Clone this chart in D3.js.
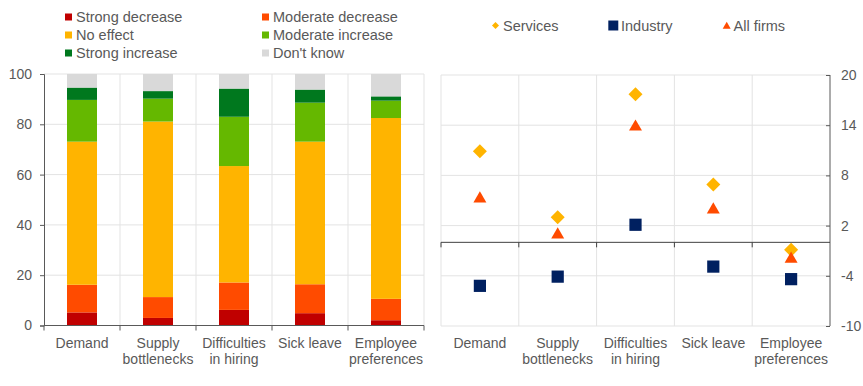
<!DOCTYPE html>
<html>
<head>
<meta charset="utf-8">
<script src="https://cdn.jsdelivr.net/npm/d3@7"></script>
<style>
  body { margin: 0; background: #fff; }
  svg text { font-family: "Liberation Sans", Arial, sans-serif; fill: #595959; }
</style>
</head>
<body>
<div id="chart"></div>
<script>
var categories = [["Demand"], ["Supply", "bottlenecks"], ["Difficulties", "in hiring"], ["Sick leave"], ["Employee", "preferences"]];
var catKeys = ["Demand", "Supply bottlenecks", "Difficulties in hiring", "Sick leave", "Employee preferences"];

var answerNames = ["Strong decrease", "Moderate decrease", "No effect", "Moderate increase", "Strong increase", "Don't know"];
var answerColors = ["#c00000", "#ff4b00", "#ffb400", "#65b800", "#00781e", "#d9d9d9"];
var strongDecrease = [5.2, 3.0, 6.2, 4.9, 2.1];
var moderateDecrease = [11.0, 8.3, 10.9, 11.5, 8.5];
var noEffect = [56.9, 69.8, 46.3, 56.7, 71.9];
var moderateIncrease = [16.6, 9.1, 19.6, 15.5, 6.9];
var strongIncrease = [4.9, 3.0, 11.2, 5.2, 1.7];
var dontKnow = [5.4, 6.8, 5.8, 6.2, 8.9];

var seriesNames = ["Services", "Industry", "All firms"];
var services = [10.9, 3.0, 17.7, 6.9, -0.9];
var industry = [-5.2, -4.1, 2.1, -2.9, -4.4];
var allFirms = [5.2, 0.9, 13.8, 3.9, -2.0];

var leftTicks = [0, 20, 40, 60, 80, 100];
var rightTicks = [-10, -4, 2, 8, 14, 20];

var W = 863, H = 386;
var svg = d3.select("#chart").append("svg").attr("width", W).attr("height", H);

// ---------- left: stacked bars ----------
var stackData = catKeys.map(function(c, i) {
  return { cat: c, s0: strongDecrease[i], s1: moderateDecrease[i], s2: noEffect[i],
           s3: moderateIncrease[i], s4: strongIncrease[i], s5: dontKnow[i] };
});
var keys = ["s0", "s1", "s2", "s3", "s4", "s5"];
var stacked = d3.stack().keys(keys)(stackData);

var xL = d3.scaleBand().domain(catKeys).range([44, 424]);
var yL = d3.scaleLinear().domain([0, 100]).range([325.5, 74]);

var gl = svg.append("g");
// gridlines
gl.selectAll("line.hg").data(leftTicks.slice(1)).enter().append("line")
  .attr("x1", 44).attr("x2", 424)
  .attr("y1", function(d) { return yL(d); }).attr("y2", function(d) { return yL(d); })
  .attr("stroke", "#e3e3e3");
gl.selectAll("line.vg").data(catKeys).enter().append("line")
  .attr("x1", function(d) { return xL(d) + xL.bandwidth(); })
  .attr("x2", function(d) { return xL(d) + xL.bandwidth(); })
  .attr("y1", yL(100)).attr("y2", yL(0))
  .attr("stroke", "#e3e3e3");

var barW = 30;
gl.selectAll("g.layer").data(stacked).enter().append("g")
  .attr("fill", function(d, i) { return answerColors[i]; })
  .selectAll("rect").data(function(d) { return d; }).enter().append("rect")
  .attr("x", function(d) { return xL(d.data.cat) + xL.bandwidth() / 2 - barW / 2; })
  .attr("width", barW)
  .attr("y", function(d) { return yL(d[1]); })
  .attr("height", function(d) { return yL(d[0]) - yL(d[1]); });

// axes
var axL = gl.append("g").attr("transform", "translate(44,0)")
  .call(d3.axisLeft(yL).tickValues(leftTicks).tickSize(4).tickPadding(8));
axL.select(".domain").attr("stroke", "#595959");
axL.selectAll(".tick line").attr("stroke", "#595959");
axL.selectAll(".tick text").attr("font-size", 14).attr("fill", "#595959");

var bxL = gl.append("g").attr("transform", "translate(0," + yL(0) + ")");
bxL.append("line").attr("x1", 44).attr("x2", 424).attr("stroke", "#595959");
bxL.selectAll("line.t").data([0, 1, 2, 3, 4, 5]).enter().append("line")
  .attr("x1", function(d) { return 44 + d * xL.bandwidth(); })
  .attr("x2", function(d) { return 44 + d * xL.bandwidth(); })
  .attr("y1", 0).attr("y2", 5).attr("stroke", "#595959");

function catLabels(g, scale) {
  g.selectAll("text.cat").data(categories).enter().append("text")
    .attr("text-anchor", "middle")
    .attr("font-size", 14)
    .each(function(d, i) {
      var t = d3.select(this);
      var cx = scale(catKeys[i]) + scale.bandwidth() / 2;
      d.forEach(function(line, j) {
        t.append("tspan").attr("x", cx).attr("y", 348 + j * 16).text(line);
      });
    });
}
catLabels(gl, xL);

// legend left
var legL = gl.append("g");
answerNames.forEach(function(n, i) {
  var col = i % 2, row = Math.floor(i / 2);
  var lx = col === 0 ? 65 : 262;
  var ly = 17 + row * 18;
  legL.append("rect").attr("x", lx).attr("y", ly - 3.5).attr("width", 7).attr("height", 7)
    .attr("fill", answerColors[i]);
  legL.append("text").attr("x", lx + 11).attr("y", ly + 5).attr("font-size", 14.5).text(n);
});

// ---------- right: markers ----------
var xR = d3.scaleBand().domain(catKeys).range([441, 830]);
var yR = d3.scaleLinear().domain([-10, 20]).range([326, 75]);

var gr = svg.append("g");
gr.selectAll("line.hg").data(rightTicks).enter().append("line")
  .attr("x1", 441).attr("x2", 830)
  .attr("y1", function(d) { return yR(d); }).attr("y2", function(d) { return yR(d); })
  .attr("stroke", "#e3e3e3");
gr.selectAll("line.vg").data([0, 1, 2, 3, 4]).enter().append("line")
  .attr("x1", function(d) { return 441 + d * xR.bandwidth(); })
  .attr("x2", function(d) { return 441 + d * xR.bandwidth(); })
  .attr("y1", yR(20)).attr("y2", yR(-10))
  .attr("stroke", "#e3e3e3");

var axR = gr.append("g").attr("transform", "translate(830,0)")
  .call(d3.axisRight(yR).tickValues(rightTicks).tickSize(-4).tickPadding(11)
    .tickFormat(function(d) { return String(d); }));
axR.select(".domain").attr("stroke", "#595959").attr("d", "M0," + yR(20) + "V" + yR(-10));
axR.selectAll(".tick line").attr("stroke", "#595959");
axR.selectAll(".tick text").attr("font-size", 14).attr("fill", "#595959");

var zx = gr.append("g").attr("transform", "translate(0," + yR(0) + ")");
zx.append("line").attr("x1", 441).attr("x2", 830).attr("stroke", "#404040");
zx.selectAll("line.t").data([0, 1, 2, 3, 4]).enter().append("line")
  .attr("x1", function(d) { return 441 + d * xR.bandwidth(); })
  .attr("x2", function(d) { return 441 + d * xR.bandwidth(); })
  .attr("y1", 0).attr("y2", 5).attr("stroke", "#404040");

catLabels(gr, xR);

var seriesVals = [services, industry, allFirms];
var seriesColors = ["#ffb400", "#002060", "#ff4b00"];
var symbols = [d3.symbolDiamond2, d3.symbolSquare2, d3.symbolTriangle2];
var symSizes = [125, 190, 120];

seriesVals.forEach(function(vals, s) {
  gr.selectAll("path.s" + s).data(vals).enter().append("path")
    .attr("transform", function(d, i) {
      return "translate(" + (xR(catKeys[i]) + xR.bandwidth() / 2) + "," + yR(d) + ")";
    })
    .attr("d", d3.symbol().type(symbols[s]).size(symSizes[s]))
    .attr("fill", seriesColors[s]);
});

// legend right
var legR = gr.append("g");
var legRX = [495.5, 613.3, 726.7];
var legTX = [503, 621, 733.5];
var legSz = [31, 127, 46];
seriesNames.forEach(function(n, i) {
  legR.append("path")
    .attr("transform", "translate(" + legRX[i] + "," + (i === 2 ? 26.5 : 25.5) + ")")
    .attr("d", d3.symbol().type(symbols[i]).size(legSz[i]))
    .attr("fill", seriesColors[i]);
  legR.append("text").attr("x", legTX[i]).attr("y", 30.5).attr("font-size", 14.5).text(n);
});
</script>
</body>
</html>
